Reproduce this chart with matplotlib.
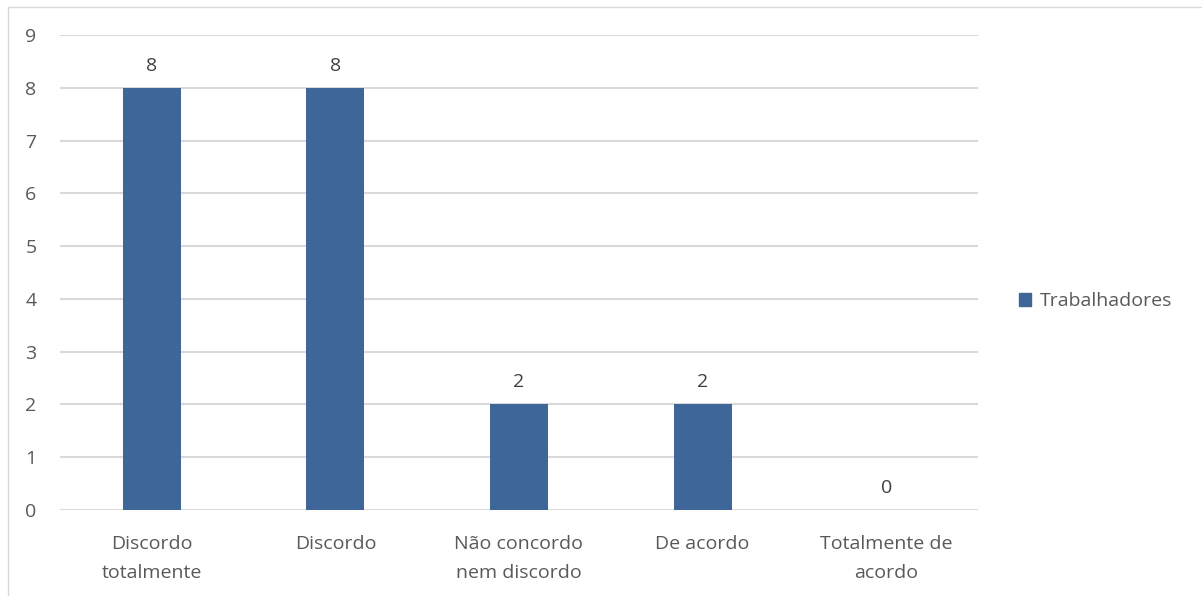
import matplotlib
matplotlib.use("Agg")
import matplotlib.pyplot as plt
from matplotlib.patches import Rectangle, Patch

categories = ["Discordo\ntotalmente", "Discordo", "Não concordo\nnem discordo",
              "De acordo", "Totalmente de\nacordo"]
trabalhadores = [8, 8, 2, 2, 0]
yticks = list(range(0, 10))

plt.rcParams['font.family'] = ['Open Sans', 'DejaVu Sans']
text_color = "#595959"
bar_color = "#3E6699"
grid_color = "#D9D9D9"
fs = 14

fig = plt.figure(figsize=(12.02, 5.96), dpi=100)
ax = fig.add_axes([60 / 1202, 1 - 510 / 596, 918 / 1202, 475 / 596])

# outer chart frame (only left and top edges show)
fig.patches.append(Rectangle((8 / 1202, -0.05), 1.2, 1 - 7 / 596 + 0.05,
                             transform=fig.transFigure, fill=False,
                             edgecolor=grid_color, linewidth=1))

x = range(len(categories))
bars = ax.bar(x, trabalhadores, width=0.316, color=bar_color, zorder=3,
              label="Trabalhadores")
for xi, v in zip(x, trabalhadores):
    ax.text(xi, v + 0.25, str(v), ha="center", va="bottom",
            fontsize=fs, color="#404040")

ax.set_xlim(-0.5, len(categories) - 0.5)
ax.set_ylim(0, 9)
ax.set_yticks(yticks)
ax.set_xticks(list(x))
ax.set_xticklabels(categories, fontsize=fs, color=text_color, linespacing=1.75)
ax.tick_params(axis="y", labelsize=fs, labelcolor=text_color, length=0, pad=17)
ax.tick_params(axis="x", length=0, pad=18)
ax.grid(axis="y", color=grid_color, linewidth=1.5, zorder=0)
for s in ax.spines.values():
    s.set_visible(False)

fig.legend(handles=[Patch(color=bar_color, label="Trabalhadores")],
           loc="center left", bbox_to_anchor=(1003 / 1202, 1 - 301 / 596),
           frameon=False, fontsize=fs, labelcolor=text_color,
           handlelength=0.65, handleheight=0.65, handletextpad=0.45,
           borderpad=0.3)

fig.savefig("out.png", dpi=100)
